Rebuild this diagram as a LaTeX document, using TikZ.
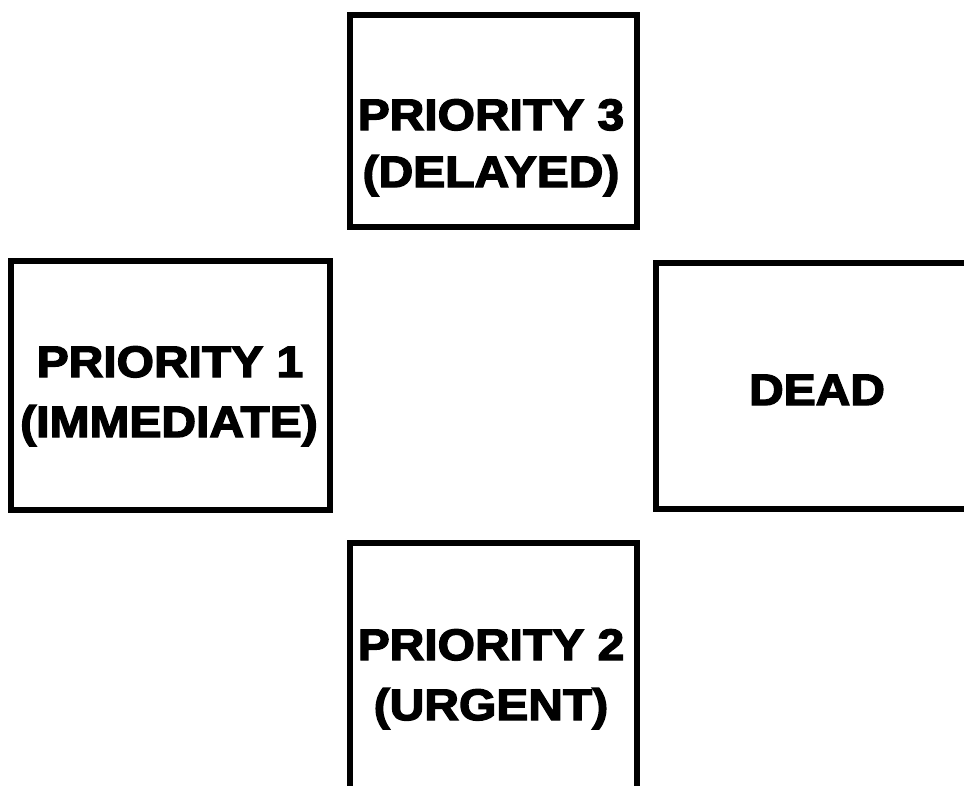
\documentclass[tikz,border=0pt]{standalone}
\usepackage{fontspec}
\setmainfont{Liberation Sans}[BoldFeatures={FakeBold=3.2,FakeStretch=1.09}]
\begin{document}
\begin{tikzpicture}[x=1pt,y=-1pt,
  tagbox/.style={draw=black,line width=6pt,fill=white},
  tagtext/.style={anchor=base,inner sep=0pt,font=\fontsize{44}{44}\selectfont\bfseries}]
\useasboundingbox (0,0) rectangle (964,785);
\clip (0,0) rectangle (964,785);
% triage tag boxes (right and bottom ones run past the page edge)
\draw[tagbox] (350,15) rectangle (637,227);
\draw[tagbox] (11,261) rectangle (330,510);
\draw[tagbox] (656,263) rectangle (1000,509);
\draw[tagbox] (350,543) rectangle (637,830);
% labels
\node[tagtext] (p3a) at (491,130) {PRIORITY 3};
\node[tagtext] (p3b) at (491,187) {(DELAYED)};
\node[tagtext] (p1a) at (170,377) {PRIORITY 1};
\node[tagtext] (p1b) at (169,437) {(IMMEDIATE)};
\node[tagtext] (dead) at (817,405) {DEAD};
\node[tagtext] (p2a) at (491,660) {PRIORITY 2};
\node[tagtext] (p2b) at (491,720) {(URGENT)};
\end{tikzpicture}
\end{document}
